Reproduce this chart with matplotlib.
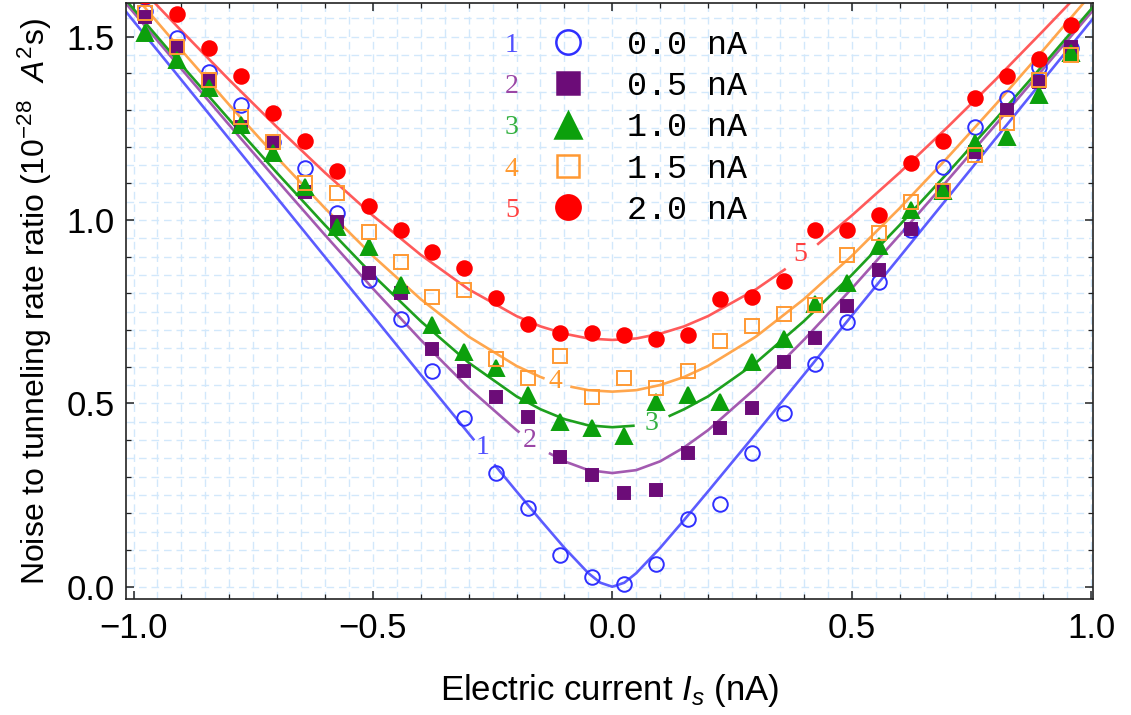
import numpy as np
import matplotlib
matplotlib.use("Agg")
import matplotlib.pyplot as plt
from matplotlib.lines import Line2D
from matplotlib.ticker import FuncFormatter
import matplotlib.transforms as mtransforms

plt.rcParams["font.family"] = ["Liberation Sans", "DejaVu Sans"]
plt.rcParams["mathtext.fontset"] = "custom"
plt.rcParams["mathtext.rm"] = "Liberation Sans"
plt.rcParams["mathtext.it"] = "Liberation Sans:italic"
plt.rcParams["mathtext.sf"] = "Liberation Sans"

# ---- measured points (current in nA, ratio in 1e-28 A^2 s) ----
current = [-0.976, -0.909, -0.842, -0.776, -0.709, -0.642, -0.576, -0.509, -0.442, -0.376,
           -0.309, -0.242, -0.176, -0.109, -0.042, 0.024, 0.091, 0.158, 0.224, 0.291,
           0.358, 0.424, 0.491, 0.558, 0.624, 0.691, 0.758, 0.824, 0.891, 0.958]

pts_00 = [1.570, 1.495, 1.404, 1.314, 1.214, 1.141, 1.018, 0.836, 0.729, 0.589,
          0.459, 0.311, 0.214, 0.086, 0.027, 0.007, 0.062, 0.184, 0.226, 0.365,
          0.473, 0.607, 0.723, 0.832, 0.973, 1.145, 1.254, 1.332, 1.418, 1.468]
pts_05 = [1.554, 1.473, 1.382, 1.254, 1.209, 1.077, 0.995, 0.855, 0.802, 0.647,
          0.589, 0.517, 0.462, 0.353, 0.305, 0.256, 0.264, 0.365, 0.432, 0.487,
          0.614, 0.677, 0.765, 0.864, 0.975, 1.082, 1.186, 1.300, 1.377, 1.473]
pts_10 = [1.509, 1.436, 1.359, 1.259, 1.182, 1.091, 0.982, 0.927, 0.823, 0.714,
          0.641, 0.596, 0.523, 0.450, 0.432, 0.411, 0.505, 0.523, 0.505, 0.614,
          0.675, 0.771, 0.827, 0.929, 1.027, 1.080, 1.209, 1.227, 1.341, 1.455]
pts_15 = [1.564, 1.473, 1.382, 1.282, 1.214, 1.102, 1.074, 0.968, 0.886, 0.791,
          0.809, 0.620, 0.568, 0.629, 0.518, 0.568, 0.541, 0.589, 0.670, 0.710,
          0.745, 0.768, 0.905, 0.964, 1.050, 1.080, 1.177, 1.264, 1.382, 1.450]
pts_20 = [1.612, 1.562, 1.468, 1.393, 1.291, 1.216, 1.134, 1.039, 0.973, 0.914,
          0.868, 0.787, 0.716, 0.691, 0.691, 0.686, 0.675, 0.686, 0.784, 0.791,
          0.834, 0.973, 0.973, 1.014, 1.156, 1.216, 1.332, 1.393, 1.438, 1.532]

# ---- fitted curves (nan = gap for the curve label) ----
nan = float("nan")
fit_x_00 = [-1.02, -0.9, -0.8, -0.7, -0.6, -0.5, -0.4, -0.3, -0.29, -0.27, -0.245, -0.2, -0.15,
            -0.1, -0.05, -0.025, 0.0, 0.025, 0.05, 0.1, 0.15, 0.2, 0.3, 0.4, 0.5, 0.6, 0.7,
            0.8, 0.9, 1.01]
fit_y_00 = [1.575, 1.382, 1.221, 1.060, 0.899, 0.739, 0.578, 0.418, 0.402, nan, 0.331, 0.260, 0.182,
            0.106, 0.037, 0.011, 0.0, 0.011, 0.037, 0.106, 0.182, 0.260, 0.418, 0.578, 0.739, 0.899,
            1.060, 1.221, 1.382, 1.559]
fit_x_05 = [-1.02, -0.9, -0.8, -0.7, -0.6, -0.5, -0.4, -0.3, -0.2, -0.196, -0.16, -0.13, -0.1,
            -0.05, 0.0, 0.05, 0.1, 0.15, 0.2, 0.3, 0.4, 0.5, 0.6, 0.7, 0.8, 0.9, 1.01]
fit_y_05 = [1.597, 1.412, 1.259, 1.108, 0.959, 0.813, 0.673, 0.542, 0.427, 0.423, nan, 0.363, 0.342,
            0.318, 0.310, 0.318, 0.342, 0.380, 0.427, 0.542, 0.673, 0.813, 0.959, 1.108, 1.259,
            1.412, 1.581]
fit_x_10 = [-1.02, -0.9, -0.8, -0.7, -0.6, -0.5, -0.4, -0.3, -0.2, -0.15, -0.1, -0.05, 0.0,
            0.044, 0.08, 0.12, 0.15, 0.2, 0.3, 0.4, 0.5, 0.6, 0.7, 0.8, 0.9, 1.01]
fit_y_10 = [1.606, 1.423, 1.274, 1.128, 0.986, 0.850, 0.724, 0.611, 0.519, 0.484, 0.457, 0.440,
            0.435, 0.439, nan, 0.466, 0.484, 0.519, 0.611, 0.724, 0.850, 0.986, 1.128, 1.274,
            1.423, 1.590]
fit_x_15 = [-1.02, -0.9, -0.8, -0.7, -0.6, -0.5, -0.4, -0.3, -0.2, -0.15, -0.144, -0.115, -0.085,
            -0.05, 0.0, 0.05, 0.1, 0.15, 0.2, 0.3, 0.4, 0.5, 0.6, 0.7, 0.8, 0.9, 1.01]
fit_y_15 = [1.646, 1.463, 1.314, 1.170, 1.032, 0.902, 0.784, 0.682, 0.602, 0.572, 0.569, nan, 0.545,
            0.536, 0.532, 0.536, 0.550, 0.572, 0.602, 0.682, 0.784, 0.902, 1.032, 1.170, 1.314,
            1.463, 1.631]
fit_x_20 = [-1.02, -0.9, -0.8, -0.7, -0.6, -0.5, -0.4, -0.3, -0.2, -0.15, -0.1, -0.05, 0.0,
            0.05, 0.1, 0.15, 0.2, 0.3, 0.36, 0.395, 0.43, 0.5, 0.6, 0.7, 0.8, 0.9, 1.01]
fit_y_20 = [1.680, 1.516, 1.382, 1.253, 1.129, 1.012, 0.905, 0.811, 0.738, 0.710, 0.690, 0.677,
            0.673, 0.677, 0.690, 0.710, 0.738, 0.811, 0.865, nan, 0.935, 1.012, 1.129, 1.253,
            1.382, 1.516, 1.666]

legend_text = ["0.0 nA", "0.5 nA", "1.0 nA", "1.5 nA", "2.0 nA"]
curve_ids = ["1", "2", "3", "4", "5"]
# where each curve number sits on its curve
id_pos = [(-0.270, 0.381), (-0.172, 0.400), (0.081, 0.446), (-0.118, 0.559), (0.392, 0.905)]

series = [
    # points, fit x, fit y, marker, marker colour, filled, line colour, label colour, ms, legend ms
    (pts_00, fit_x_00, fit_y_00, "o", "#2f2fff", False, "#5c5cff", "#5050ff", 10.5, 17.5),
    (pts_05, fit_x_05, fit_y_05, "s", "#6c0c78", True, "#a35ab0", "#9a46a6", 9.0, 16.5),
    (pts_10, fit_x_10, fit_y_10, "^", "#0ca00c", True, "#1ea01e", "#33b040", 11.0, 18.5),
    (pts_15, fit_x_15, fit_y_15, "s", "#ff9933", False, "#ffa64d", "#ff9a30", 10.0, 16.5),
    (pts_20, fit_x_20, fit_y_20, "o", "#ff0000", True, "#ff5a5a", "#ff4040", 10.5, 17.5),
]

fig = plt.figure(figsize=(11.31, 7.15), dpi=100)
ax = fig.add_axes([0.1114, 0.1622, 0.8550, 0.8332])

# light blue dashed background grid every 0.05
for gx in np.arange(-1.0, 1.001, 0.05):
    ax.axvline(gx, color="#d2e8fb", lw=1.0, dashes=(5.5, 3.5), zorder=0)
for gy in np.arange(0.0, 1.6, 0.05):
    ax.axhline(gy, color="#d2e8fb", lw=1.0, dashes=(5.5, 3.5), zorder=0)

handles = []
for (pts, fx, fy, mk, mc, filled, lc, tc, ms, lms), cid, (tx, ty) in zip(series, curve_ids, id_pos):
    ax.plot(fx, fy, color=lc, lw=1.9, zorder=2)
    face = mc if filled else "none"
    ax.plot(current, pts, ls="none", marker=mk, ms=ms, mfc=face, mec=mc,
            mew=1.4, zorder=3)
    ax.text(tx, ty, cid, color=tc, fontsize=20, family="Liberation Serif",
            ha="center", va="center", zorder=4)
    handles.append(Line2D([], [], ls="none", marker=mk, ms=lms, mfc=face, mec=mc, mew=1.8))

ax.set_xlim(-1.0157, 1.004)
ax.set_ylim(-0.0335, 1.591)
ax.set_xticks([-1.0, -0.5, 0.0, 0.5, 1.0])
ax.set_yticks([0.0, 0.5, 1.0, 1.5])
ax.set_xticks(np.arange(-1.0, 1.001, 0.1), minor=True)
ax.set_yticks(np.arange(0.0, 1.59, 0.1), minor=True)
fmt = FuncFormatter(lambda v, p: f"{v:.1f}".replace("-", "\u2212"))
ax.xaxis.set_major_formatter(fmt)
ax.yaxis.set_major_formatter(fmt)
ax.tick_params(which="both", direction="in", top=True, right=True, color="#222222")
ax.tick_params(which="major", length=6, width=1.1, labelsize=25)
ax.tick_params(which="minor", length=3.5, width=0.9)
ax.tick_params(axis="x", which="major", pad=9)
ax.tick_params(axis="y", which="major", pad=8)
for sp in ax.spines.values():
    sp.set_linewidth(1.2)
    sp.set_color("#222222")

ax.set_xlabel(r"Electric current $I_s$ (nA)", fontsize=25, labelpad=20)
ax.set_ylabel(r"Noise to tunneling rate ratio (10$^{-28}$  $A^2$s)", fontsize=23, labelpad=9)

leg = ax.legend(handles, legend_text, loc="upper left", bbox_to_anchor=(0.4395, 0.956),
                frameon=False, prop={"family": "Liberation Mono", "size": 24},
                handlelength=1.0, handletextpad=1.27, labelspacing=0.31,
                borderpad=0.0, borderaxespad=0.0)

# curve numbers in front of each legend row, aligned with the row text
fig.canvas.draw()
inv = ax.transAxes.inverted()
trans = mtransforms.blended_transform_factory(ax.transData, ax.transAxes)
for txt, cid, s in zip(leg.get_texts(), curve_ids, series):
    bb = txt.get_window_extent()
    yc = inv.transform((0, (bb.y0 + bb.y1) / 2))[1]
    ax.text(-0.21, yc, cid, transform=trans, color=s[7], fontsize=20,
            family="Liberation Serif", ha="center", va="center")

fig.savefig("out.png", dpi=100)
